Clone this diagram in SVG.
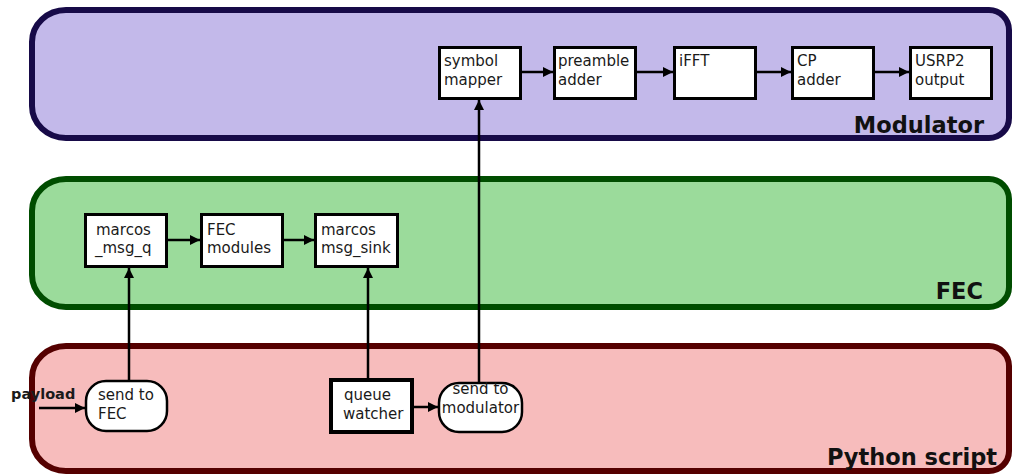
<svg xmlns="http://www.w3.org/2000/svg" width="1014" height="474" viewBox="0 0 1014 474">
  <defs>
    <marker id="arrow" viewBox="0 0 10 10" refX="10" refY="5" markerWidth="11" markerHeight="10" markerUnits="userSpaceOnUse" orient="auto">
      <path d="M0,0 L10,5 L0,10 Z" fill="#000"/>
    </marker>
  </defs>
  <style>
    .panel { stroke-width: 6; }
    .mod { fill: #c3b9ea; stroke: #170a48; }
    .fec { fill: #9bdb9b; stroke: #004d00; }
    .py { fill: #f7bcbc; stroke: #550000; }
    .title { font-family: "DejaVu Sans", sans-serif; font-weight: bold; font-size: 22.5px; fill: #111; text-anchor: end; }
    .box { fill: #fff; stroke: #000; stroke-width: 3; }
    .box4 { fill: #fff; stroke: #000; stroke-width: 4; }
    .pill { fill: #fff; stroke: #000; stroke-width: 2.5; }
    .lbl { font-family: "DejaVu Sans", sans-serif; font-size: 15px; fill: #1a1a1a; }
    .bold { font-family: "DejaVu Sans", sans-serif; font-size: 14.5px; font-weight: bold; fill: #1a1a1a; }
    .edge { fill: none; stroke: #000; stroke-width: 2.5; marker-end: url(#arrow); }
  </style>

  <!-- Modulator panel -->
  <g id="modulator">
    <path class="panel mod" d="M66 10 H989 A20 20 0 0 1 1009 30 V118 A20 20 0 0 1 989 138 H66 A34 32 0 0 1 32 106 V42 A34 32 0 0 1 66 10 Z"/>
    <text class="title" x="984" y="133">Modulator</text>
  </g>

  <!-- FEC panel -->
  <g id="fec">
    <path class="panel fec" d="M66 179 H989 A20 20 0 0 1 1009 199 V287 A20 20 0 0 1 989 307 H66 A34 32 0 0 1 32 275 V211 A34 32 0 0 1 66 179 Z"/>
    <text class="title" x="983" y="299">FEC</text>
  </g>

  <!-- Python script panel -->
  <g id="python">
    <path class="panel py" d="M66 346 H989 A20 20 0 0 1 1009 366 V451 A20 20 0 0 1 989 471 H66 A34 32 0 0 1 32 439 V378 A34 32 0 0 1 66 346 Z"/>
    <text class="title" x="997" y="465">Python script</text>
  </g>

  <!-- Modulator blocks -->
  <g id="symbol-mapper">
    <rect class="box" x="439.5" y="47.5" width="81" height="51"/>
    <text class="lbl" x="444" y="66">symbol</text>
    <text class="lbl" x="444" y="85">mapper</text>
  </g>
  <g id="preamble-adder">
    <rect class="box" x="554.5" y="47.5" width="81" height="51"/>
    <text class="lbl" x="558" y="66">preamble</text>
    <text class="lbl" x="558" y="85">adder</text>
  </g>
  <g id="ifft">
    <rect class="box" x="674.5" y="47.5" width="81" height="51"/>
    <text class="lbl" x="679" y="66">iFFT</text>
  </g>
  <g id="cp-adder">
    <rect class="box" x="792.5" y="47.5" width="81" height="51"/>
    <text class="lbl" x="797" y="66">CP</text>
    <text class="lbl" x="797" y="85">adder</text>
  </g>
  <g id="usrp2-output">
    <rect class="box" x="910.5" y="47.5" width="81" height="51"/>
    <text class="lbl" x="915" y="66">USRP2</text>
    <text class="lbl" x="915" y="85">output</text>
  </g>

  <!-- FEC blocks -->
  <g id="marcos-msg-q">
    <rect class="box" x="85.5" y="214.5" width="81" height="52"/>
    <text class="lbl" x="96" y="235">marcos</text>
    <text class="lbl" x="95" y="253">_msg_q</text>
  </g>
  <g id="fec-modules">
    <rect class="box" x="201.5" y="214.5" width="81" height="52"/>
    <text class="lbl" x="207" y="235">FEC</text>
    <text class="lbl" x="207" y="253">modules</text>
  </g>
  <g id="marcos-msg-sink">
    <rect class="box" x="315.5" y="214.5" width="82" height="52"/>
    <text class="lbl" x="321" y="235">marcos</text>
    <text class="lbl" x="321" y="253">msg_sink</text>
  </g>

  <!-- Python script blocks -->
  <g id="send-to-fec">
    <rect class="pill" x="86" y="381" width="81" height="50" rx="20" ry="20"/>
    <text class="lbl" x="98" y="400">send to</text>
    <text class="lbl" x="98" y="419">FEC</text>
  </g>
  <g id="queue-watcher">
    <rect class="box4" x="331" y="380" width="81" height="52"/>
    <text class="lbl" x="344" y="400">queue</text>
    <text class="lbl" x="343" y="419">watcher</text>
  </g>
  <g id="send-to-modulator">
    <rect class="pill" x="439" y="383" width="83" height="49" rx="20" ry="20"/>
    <text class="lbl" x="480.5" y="394" text-anchor="middle">send to</text>
    <text class="lbl" x="480.5" y="413" text-anchor="middle">modulator</text>
  </g>
  <g id="payload-label">
    <text class="bold" x="11" y="399">payload</text>
  </g>

  <!-- Connectors -->
  <g id="connectors">
    <line class="edge" x1="522" y1="72" x2="553" y2="72"/>
    <line class="edge" x1="637" y1="72" x2="673" y2="72"/>
    <line class="edge" x1="757" y1="72" x2="791" y2="72"/>
    <line class="edge" x1="875" y1="72" x2="909" y2="72"/>
    <line class="edge" x1="168" y1="240" x2="200" y2="240"/>
    <line class="edge" x1="284" y1="240" x2="314" y2="240"/>
    <line class="edge" x1="39" y1="408" x2="85" y2="408"/>
    <line class="edge" x1="414" y1="407" x2="438" y2="407"/>
    <line class="edge" x1="129" y1="380" x2="129" y2="268"/>
    <line class="edge" x1="368" y1="378" x2="368" y2="268"/>
    <line class="edge" x1="479" y1="382" x2="479" y2="100"/>
  </g>
</svg>
